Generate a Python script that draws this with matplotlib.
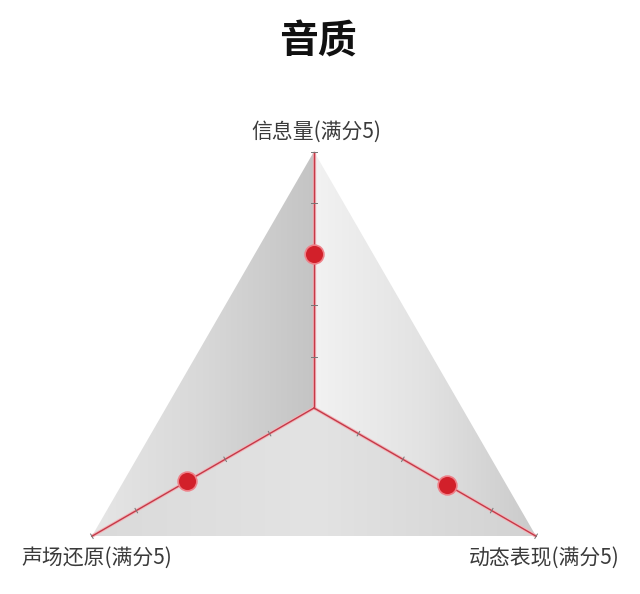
import numpy as np
import matplotlib.pyplot as plt
from matplotlib.colors import LinearSegmentedColormap
from matplotlib.patches import Polygon

plt.rcParams['font.family'] = ['Noto Sans CJK SC', 'DejaVu Sans']

# --- dados ---
titulo = "音质"
categorias = ["信息量(满分5)", "声场还原(满分5)", "动态表现(满分5)"]
valores = [3.0, 2.85, 3.0]
angulos_graus = [90, 210, 330]
escala_max = 5
marcas = [1, 2, 3, 4]

VERMELHO = "#d2202a"
LINHA = "#c43a48"

fig = plt.figure(figsize=(6.4, 5.94), dpi=100)
ax = fig.add_axes([0, 0, 1, 1])
ax.set_axis_off()

# pixel scale: ~51.3 px por unidade, centro em (314, 408)
esc = 51.3
cx, cy = 314, 408
ax.set_xlim(-cx / esc, (640 - cx) / esc)
ax.set_ylim(-(594 - cy) / esc, cy / esc)

ang = np.deg2rad(angulos_graus)
vx = escala_max * np.cos(ang)
vy = escala_max * np.sin(ang)

# faces do "pirâmide" com gradiente
faces = [
    ([(0, 0), (vx[0], vy[0]), (vx[1], vy[1])], ["#e6e6e6", "#d8d8d8", "#c4c4c4"]),
    ([(0, 0), (vx[0], vy[0]), (vx[2], vy[2])], ["#f2f2f2", "#e2e2e2", "#cacaca"]),
    ([(0, 0), (vx[1], vy[1]), (vx[2], vy[2])], ["#dadada", "#e3e3e3", "#d2d2d2"]),
]
for pts, cores in faces:
    pts = np.array(pts)
    x0, x1 = pts[:, 0].min(), pts[:, 0].max()
    y0, y1 = pts[:, 1].min(), pts[:, 1].max()
    cmap = LinearSegmentedColormap.from_list("g", cores)
    grad = np.linspace(0, 1, 256).reshape(1, -1)
    im = ax.imshow(grad, cmap=cmap, extent=[x0, x1, y0, y1],
                   aspect="auto", interpolation="bicubic", zorder=1)
    poly = Polygon(pts, closed=True, facecolor="none", edgecolor="none")
    ax.add_patch(poly)
    im.set_clip_path(poly)

# eixos vermelhos e marcas
for a in ang:
    ax.plot([0, escala_max * np.cos(a)], [0, escala_max * np.sin(a)],
            color="#f2b5ba", lw=2.4, zorder=2, solid_capstyle="butt")
    ax.plot([0, escala_max * np.cos(a)], [0, escala_max * np.sin(a)],
            color=LINHA, lw=1.0, zorder=3)
    px, py = -np.sin(a), np.cos(a)
    for m in marcas + [escala_max]:
        mx, my = m * np.cos(a), m * np.sin(a)
        t = 0.05
        ax.plot([mx - px * t, mx + px * t], [my - py * t, my + py * t],
                color="#777777", lw=0.7, zorder=3)

# pontos
for a, v in zip(ang, valores):
    ax.plot(v * np.cos(a), v * np.sin(a), "o", ms=13.5, color=VERMELHO,
            mec="#ee8088", mew=1.2, zorder=5)

# rótulos
ax.text(vx[0] + 0.04, vy[0] + 0.38, categorias[0], ha="center", va="center",
        fontsize=15, color="#3a3a3a")
ax.text(vx[1] + 0.1, vy[1] - 0.42, categorias[1], ha="center", va="center",
        fontsize=15, color="#3a3a3a")
ax.text(vx[2] + 0.15, vy[2] - 0.42, categorias[2], ha="center", va="center",
        fontsize=15, color="#3a3a3a")

fig.text(318 / 640, 1 - 42 / 594, titulo, ha="center", va="center",
         fontsize=28, fontweight="bold", color="#111111")

fig.savefig("out.png", dpi=100)
